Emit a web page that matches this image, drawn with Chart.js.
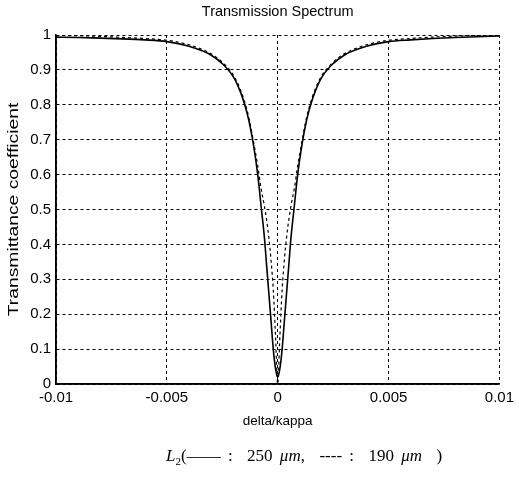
<!DOCTYPE html>
<html>
<head>
<meta charset="utf-8">
<script src="https://cdn.jsdelivr.net/npm/chart.js@4.4.1/dist/chart.umd.min.js"></script>
<style>
  html, body { margin: 0; padding: 0; background: #fff; }
  #wrap { position: relative; width: 519px; height: 479px; }
  #caption {
    position: absolute; left: 166px; top: 446px; white-space: nowrap;
    font-family: "Liberation Serif", "DejaVu Serif", serif;
    font-size: 17px; color: #000; word-spacing: 3px;
  }
  #caption sub { font-size: 11px; }
</style>
</head>
<body>
<div id="wrap">
  <canvas id="spec_chart" width="519" height="479"></canvas>
  <div id="caption"><i>L</i><sub>2</sub>(—— : &nbsp;250 <i>μm</i>, &nbsp;---- : &nbsp;190 <i>μm</i> &nbsp;)</div>
</div>
<script>
// detuning values (delta/kappa)
const delta = [-0.01, -0.009, -0.008, -0.007, -0.006, -0.005, -0.004, -0.0035, -0.003, -0.0025,
  -0.002, -0.0017, -0.0015, -0.0013, -0.0011, -0.0009, -0.00075, -0.0006, -0.0005, -0.0004,
  -0.0003, -0.0002, -0.0001, 0, 0.0001, 0.0002, 0.0003, 0.0004, 0.0005, 0.0006, 0.00075,
  0.0009, 0.0011, 0.0013, 0.0015, 0.0017, 0.002, 0.0025, 0.003, 0.0035, 0.004, 0.005,
  0.006, 0.007, 0.008, 0.009, 0.01];

// L2 = 250 um (solid)
const t250 = [0.994, 0.993, 0.991, 0.989, 0.986, 0.981, 0.968, 0.957, 0.942, 0.918,
  0.880, 0.840, 0.803, 0.755, 0.688, 0.600, 0.510, 0.420, 0.340, 0.260,
  0.180, 0.100, 0.045, 0.020, 0.045, 0.100, 0.180, 0.260, 0.340, 0.420, 0.510,
  0.600, 0.688, 0.755, 0.803, 0.840, 0.880, 0.918, 0.942, 0.957, 0.968, 0.981,
  0.986, 0.990, 0.993, 0.995, 0.997];

// L2 = 190 um (dashed)
const t190 = [0.999, 0.998, 0.996, 0.993, 0.990, 0.985, 0.972, 0.961, 0.946, 0.922,
  0.885, 0.846, 0.810, 0.763, 0.697, 0.625, 0.560, 0.510, 0.470, 0.420,
  0.355, 0.270, 0.140, 0.0, 0.140, 0.270, 0.355, 0.420, 0.470, 0.510, 0.560,
  0.625, 0.697, 0.763, 0.810, 0.846, 0.885, 0.922, 0.946, 0.961, 0.972, 0.985,
  0.990, 0.994, 0.997, 0.999, 1.0];

const xTicks = [-0.01, -0.005, 0, 0.005, 0.01];
const xTickLabels = ['-0.01', '-0.005', '0', '0.005', '0.01'];
const yTicks = [0, 0.1, 0.2, 0.3, 0.4, 0.5, 0.6, 0.7, 0.8, 0.9, 1];
const yTickLabels = ['0', '0.1', '0.2', '0.3', '0.4', '0.5', '0.6', '0.7', '0.8', '0.9', '1'];

const pts = arr => delta.map((d, i) => ({ x: d, y: arr[i] }));

const sans = '"Liberation Sans", Arial, sans-serif';
const tickFont = { family: sans, size: 15 };
const gridStyle = { color: '#000', lineWidth: 1, drawTicks: false };

// left and bottom axis lines solid, plus the y title (stretched like the scan)
const solidAxes = {
  id: 'solidAxes',
  afterDraw(chart) {
    const { ctx, chartArea: a } = chart;
    ctx.save();
    ctx.strokeStyle = '#000';
    ctx.lineWidth = 1.5;
    ctx.setLineDash([]);
    ctx.beginPath();
    ctx.moveTo(a.left, a.top);
    ctx.lineTo(a.left, a.bottom);
    ctx.lineTo(a.right, a.bottom);
    ctx.stroke();

    ctx.translate(14, (a.top + a.bottom) / 2);
    ctx.rotate(-Math.PI / 2);
    ctx.scale(1.38, 1);
    ctx.fillStyle = '#000';
    ctx.font = '14px ' + sans;
    ctx.textAlign = 'center';
    ctx.textBaseline = 'middle';
    ctx.fillText('Transmittance coefficient', 0, 0);
    ctx.restore();
  }
};

const spec_config = {
  type: 'line',
  data: {
    datasets: [{
      label: '250 um',
      data: pts(t250),
      borderColor: '#000',
      borderWidth: 1.6,
      pointRadius: 0,
      cubicInterpolationMode: 'monotone'
    }, {
      label: '190 um',
      data: pts(t190),
      borderColor: '#000',
      borderWidth: 1.2,
      borderDash: [3, 3],
      pointRadius: 0,
      cubicInterpolationMode: 'monotone'
    }]
  },
  options: {
    responsive: false,
    animation: false,
    layout: { padding: { left: 0, right: 16, top: 0, bottom: 45 } },
    plugins: {
      legend: { display: false },
      tooltip: { enabled: false },
      title: {
        display: true,
        text: 'Transmission Spectrum',
        fullSize: false,
        color: '#000',
        font: { family: sans, size: 14.5, weight: 'normal', lineHeight: 1 },
        padding: { top: 5, bottom: 15.5 }
      }
    },
    scales: {
      x: {
        type: 'linear',
        min: -0.01,
        max: 0.01,
        afterBuildTicks: s => { s.ticks = xTicks.map(v => ({ value: v })); },
        afterFit: s => { s.height = 50; },
        ticks: {
          color: '#000',
          font: tickFont,
          padding: 5,
          maxRotation: 0,
          callback: (v, i) => xTickLabels[i]
        },
        grid: { ...gridStyle },
        border: { display: true, color: '#000', width: 1.5, dash: [3, 3] },
        title: {
          display: true,
          text: 'delta/kappa',
          color: '#000',
          font: { family: sans, size: 13.5 },
          padding: { top: 0, bottom: 5 }
        }
      },
      y: {
        min: 0,
        max: 1,
        afterBuildTicks: s => { s.ticks = yTicks.map(v => ({ value: v })); },
        afterFit: s => { s.width = 56; },
        ticks: {
          color: '#000',
          font: tickFont,
          padding: 5,
          callback: (v, i) => yTickLabels[i]
        },
        grid: { ...gridStyle },
        border: { display: true, color: '#000', width: 1.5, dash: [3, 3] },
        title: { display: false }
      }
    }
  },
  plugins: [solidAxes]
};

// dashed grid lines like the MATLAB grid
spec_config.options.scales.x.grid.borderDash = [3, 3];
spec_config.options.scales.y.grid.borderDash = [3, 3];

const spec_chart = new Chart(document.getElementById('spec_chart'), spec_config);
</script>
</body>
</html>
